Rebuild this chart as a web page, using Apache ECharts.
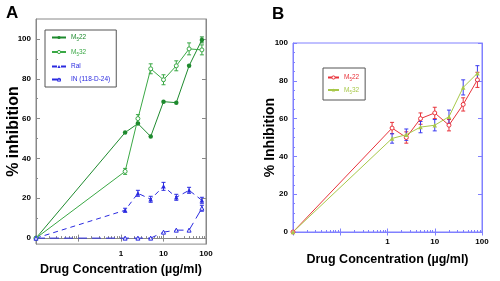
<!DOCTYPE html>
<html>
<head>
<meta charset="utf-8">
<script src="https://cdn.jsdelivr.net/npm/echarts@6/dist/echarts.min.js"></script>
<style>html,body{margin:0;padding:0;background:#fff}#chart{width:500px;height:281px}</style>
</head>
<body>
<div id="chart"></div>
<script>
// 0 µg/ml is drawn at the left edge of the log axis (0.01)
const conc = [0.01, 1.25, 2.5, 5, 10, 20, 40, 80];

// panel A
const aM22 = [0, 53, 57.5, 51, 68.5, 68, 86.5, 99.5];
const aM22Err = [0, 0, 0, 0, 0, 0, 0, 1.5];
const aM32 = [0, 33.5, 60, 85, 79.5, 86.5, 95, 94.5];
const aM32Err = [0, 1.5, 2, 2.5, 2.5, 2.5, 3, 2.5];
const aRal = [0, 14, 22.5, 19.5, 26, 20.5, 24, 19];
const aRalErr = [0, 1, 1.5, 1.5, 2, 1.5, 1.5, 1.5];
const aIN = [0, 0, 0, 0, 3, 4, 4, 15];
const aINErr = [0, 0, 0, 0, 0, 0, 0, 1.5];

// panel B
const bM22 = [0, 55, 50, 60, 63, 56.5, 67.5, 80.5];
const bM22Err = [0, 3, 3, 3, 3, 3, 3.5, 4];
const bM32 = [0, 49.5, 51.5, 55.5, 56.5, 61, 76.5, 84];
const bM32Err = [0, 2.5, 3, 3, 3, 3.5, 4, 4];

const yTicks = [0, 20, 40, 60, 80, 100];
const yMinorA = [10, 30, 50, 70, 90];
const yMinorB = [5, 10, 15, 25, 30, 35, 45, 50, 55, 65, 70, 75, 85, 90, 95];
const xLabels = [1, 10, 100];
const xMajor = [0.01, 0.1, 1, 10, 100];

const font = 'Liberation Sans';
const xMinor = [];
[0.01, 0.1, 1, 10].forEach(d => { for (let k = 2; k < 10; k++) xMinor.push(d * k); });

function pts(vals) { return conc.map((c, i) => [c, vals[i]]); }
function errs(vals, e) {
    return conc.map((c, i) => [c, vals[i] - e[i], vals[i] + e[i]]).filter((d, i) => e[i] > 0);
}

function errSeries(data, color, xi, yi) {
    return {
        type: 'custom', xAxisIndex: xi, yAxisIndex: yi, data: data, z: 1, silent: true,
        renderItem: function (params, api) {
            const lo = api.coord([api.value(0), api.value(1)]);
            const hi = api.coord([api.value(0), api.value(2)]);
            const w = 2;
            const st = {stroke: color, lineWidth: 1};
            return {type: 'group', children: [
                {type: 'line', shape: {x1: lo[0], y1: lo[1], x2: hi[0], y2: hi[1]}, style: st},
                {type: 'line', shape: {x1: lo[0] - w, y1: lo[1], x2: lo[0] + w, y2: lo[1]}, style: st},
                {type: 'line', shape: {x1: hi[0] - w, y1: hi[1], x2: hi[0] + w, y2: hi[1]}, style: st}
            ]};
        }
    };
}

// kind: 'main' (labels + name), 'top', 'minor'
function xAx(grid, color, kind, nameGap) {
    const main = kind === 'main';
    return {
        type: 'log', gridIndex: grid, min: 0.01, max: 100, logBase: 10,
        position: kind === 'top' ? 'top' : 'bottom',
        name: main ? 'Drug Concentration (µg/ml)' : '', nameLocation: 'middle', nameGap: nameGap,
        nameTextStyle: {fontFamily: font, fontWeight: 'bold', fontSize: 12.5, color: '#000'},
        axisLine: {show: kind !== 'minor', lineStyle: {color: color}},
        axisTick: {show: true, inside: true, length: kind === 'minor' ? 2 : 3.5,
            customValues: kind === 'minor' ? xMinor : xMajor, lineStyle: {color: color}},
        axisLabel: {show: main, customValues: xLabels, fontFamily: font, fontWeight: 'bold', fontSize: 8, color: '#000', margin: 6},
        splitLine: {show: false}
    };
}

function yAx(grid, color, min, max, kind, name, nameGap, size, minor) {
    const main = kind === 'main';
    return {
        type: 'value', gridIndex: grid, min: min, max: max,
        position: kind === 'right' ? 'right' : 'left',
        name: main ? name : '', nameLocation: 'middle', nameGap: nameGap, nameMoveOverlap: false,
        nameTextStyle: {fontFamily: font, fontWeight: 'bold', fontSize: size, color: '#000'},
        axisLine: {show: kind !== 'minor', lineStyle: {color: color}},
        axisTick: {show: true, inside: true, length: kind === 'minor' ? 2 : 4,
            customValues: kind === 'minor' ? minor : yTicks, lineStyle: {color: color}},
        axisLabel: {show: main, customValues: yTicks, fontFamily: font, fontWeight: 'bold', fontSize: 8, color: '#000', margin: 5},
        splitLine: {show: false}
    };
}

const cA1 = '#1e8a2e', cA2 = '#3aa845', cBlue = '#2a2ae0', cRed = '#e8323a', cYG = '#a8c84a', cErrB = '#3a3af0';
const gA = '#888', gB = '#8080ff';
const sub = {s: {fontSize: 4.5, verticalAlign: 'bottom', padding: [5, 0, 0, 0]}};
function legName(n) { return n.replace(' B', '').replace('M5', 'M{s|5}'); }

function line(name, xi, data, symbol, color, dash, open) {
    return {
        name: name, type: 'line', xAxisIndex: xi, yAxisIndex: xi, data: data,
        symbol: symbol, symbolSize: open ? 4 : 4.5,
        itemStyle: open ? {color: '#fff', borderColor: color, borderWidth: 1} : {color: color},
        lineStyle: {color: color, width: 1, type: dash || 'solid'}
    };
}

function legend(left, top, gap, iw, pad, items) {
    return {
        orient: 'vertical', left: left, top: top, padding: pad, itemGap: gap,
        itemWidth: iw, itemHeight: 4, borderColor: '#555', borderWidth: 1,
        itemStyle: {borderWidth: 1},
        formatter: legName,
        textStyle: {fontFamily: font, fontSize: 6.5, rich: sub},
        data: items
    };
}

const option = {
    animation: false,
    title: [
        {text: 'A', left: 6, top: 5, padding: 0, textStyle: {fontFamily: font, fontWeight: 'bold', fontSize: 17, color: '#000'}},
        {text: 'B', left: 272, top: 6, padding: 0, textStyle: {fontFamily: font, fontWeight: 'bold', fontSize: 17, color: '#000'}}
    ],
    grid: [
        {left: 36, right: 294, top: 19, bottom: 36, show: true, borderColor: gA, borderWidth: 1},
        {left: 293, right: 18, top: 43, bottom: 49, show: true, borderColor: gB, borderWidth: 1}
    ],
    xAxis: [
        xAx(0, gA, 'main', 18), xAx(0, gA, 'top', 0), xAx(0, gA, 'minor', 0),
        xAx(1, gB, 'main', 21), xAx(1, gB, 'top', 0), xAx(1, gB, 'minor', 0)
    ],
    yAxis: [
        yAx(0, gA, -3, 110, 'main', '% inhibition', 14, 16), yAx(0, gA, -3, 110, 'right'), yAx(0, gA, -3, 110, 'minor', '', 0, 0, yMinorA),
        yAx(1, gB, 0, 100, 'main', '% Inhibition', 16, 14), yAx(1, gB, 0, 100, 'right'), yAx(1, gB, 0, 100, 'minor', '', 0, 0, yMinorB)
    ],
    legend: [
        legend(45, 30, 6, 14, [4, 6, 4, 6], [
            {name: 'M522', textStyle: {color: cA1}},
            {name: 'M532', textStyle: {color: cA2}},
            {name: 'Ral', textStyle: {color: cBlue}},
            {name: 'IN (118-D-24)', textStyle: {color: cBlue}}
        ]),
        legend(323, 68, 4, 11, [6, 6, 5, 4], [
            {name: 'M522 B', textStyle: {color: cRed}},
            {name: 'M532 B', textStyle: {color: cYG}}
        ])
    ],
    series: [
        errSeries(errs(aM22, aM22Err), cA1, 0, 0),
        errSeries(errs(aM32, aM32Err), cA2, 0, 0),
        errSeries(errs(aRal, aRalErr), cBlue, 0, 0),
        errSeries(errs(aIN, aINErr), cBlue, 0, 0),
        errSeries(errs(bM22, bM22Err), cRed, 3, 3),
        errSeries(errs(bM32, bM32Err), cErrB, 3, 3),
        line('M522', 0, pts(aM22), 'circle', cA1),
        line('M532', 0, pts(aM32), 'circle', cA2, null, true),
        line('Ral', 0, pts(aRal), 'triangle', cBlue, [5, 4]),
        line('IN (118-D-24)', 0, pts(aIN), 'triangle', cBlue, [9, 5], true),
        line('M522 B', 3, pts(bM22), 'circle', cRed, null, true),
        line('M532 B', 3, pts(bM32), 'triangle', cYG)
    ]
};

var chart = echarts.init(document.getElementById('chart'));
chart.setOption(option);
window.onresize = function () { chart.resize(); };
</script>
</body>
</html>
